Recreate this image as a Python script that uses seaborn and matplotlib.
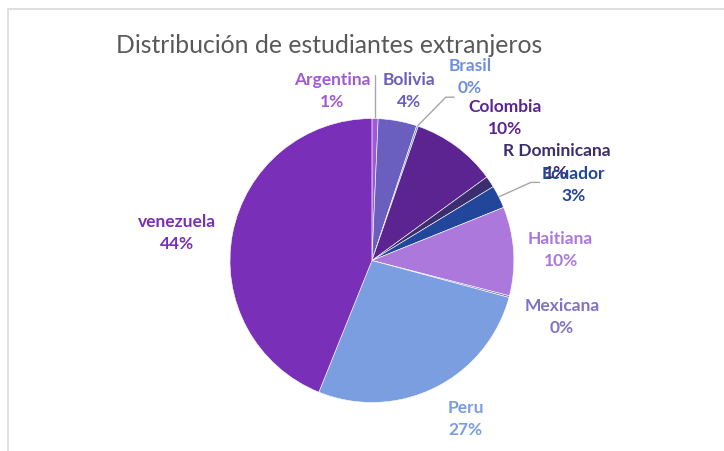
import numpy as np
import matplotlib
matplotlib.use("Agg")
import matplotlib.pyplot as plt
import seaborn as sns

# data (percent)
paises = ['Argentina', 'Bolivia', 'Brasil', 'Colombia', 'R Dominicana',
          'Ecuador', 'Haitiana', 'Mexicana', 'Peru', 'venezuela']
valores = [0.7, 4.4, 0.2, 9.7, 1.3, 2.6, 10.1, 0.2, 26.9, 43.9]
colores = ['#a05ad6', '#6a5fbf', '#6e8fe0', '#5c2490', '#3b2d6e',
           '#22479a', '#ac78dc', '#7f74c4', '#7a9ee0', '#7a2fb8']

# label placement (in pie radius units)
label_pos = [(-0.28, 1.20), (0.26, 1.20), (0.69, 1.30), (0.94, 1.01), (1.30, 0.70),
             (1.42, 0.54), (1.33, 0.08), (1.34, -0.39), (0.66, -1.11), (-1.37, 0.20)]

sns.set_theme(style="white")
plt.rcParams['font.family'] = ['Lato', 'DejaVu Sans']

fig = plt.figure(figsize=(7.24, 4.52), dpi=100)
ax = fig.add_axes([0, 0, 1, 1])

wedges, _ = ax.pie(valores, colors=colores, startangle=90, counterclock=False,
                   radius=1.0, wedgeprops=dict(edgecolor='white', linewidth=0.4))

# pie() resets the limits, so set them afterwards
ax.set_xlim(-2.62, 2.48)
ax.set_ylim(-1.34, 1.84)
ax.set_aspect('equal')
ax.axis('off')

for w in wedges:
    w.set_zorder(3)

# leader lines for the small slices
for i, (lx, ly) in enumerate(label_pos):
    if paises[i] in ('Argentina', 'Brasil', 'Ecuador'):
        w = wedges[i]
        mid = np.deg2rad((w.theta1 + w.theta2) / 2)
        ex, ey = np.cos(mid), np.sin(mid)
        if paises[i] == 'Argentina':
            ax.plot([ex, ex], [ey, 1.31], color='#a6a6a6', lw=1, zorder=2)
        elif paises[i] == 'Brasil':
            ax.plot([ex, 0.52, 0.58], [ey, 1.15, 1.15], color='#a6a6a6', lw=1, zorder=2)
        else:
            ax.plot([ex, 1.12, 1.18], [ey, 0.55, 0.55], color='#a6a6a6', lw=1, zorder=2)

for i, (lx, ly) in enumerate(label_pos):
    ax.text(lx, ly, f"{paises[i]}\n{valores[i]:.0f}%", ha='center', va='center',
            color=colores[i], fontsize=12.5, fontweight='bold', linespacing=1.45, zorder=4)

fig.text(0.160, 0.90, "Distribución de estudiantes extranjeros", fontsize=17.8,
         color='#595959', ha='left', va='center')

# chart frame
fig.add_artist(plt.Line2D([0.011, 1.0], [0.978, 0.978], color='#d9d9d9', lw=1.2))
fig.add_artist(plt.Line2D([0.011, 0.011], [0.0, 0.978], color='#d9d9d9', lw=1.2))

fig.savefig("out.png", dpi=100)
